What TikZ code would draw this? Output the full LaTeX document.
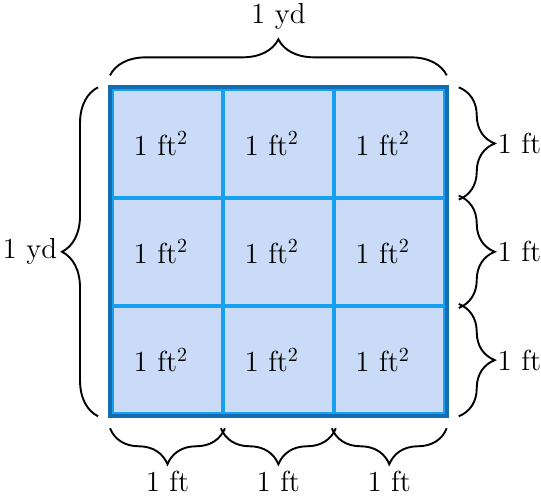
\documentclass[tikz,border=0pt]{standalone}
\usepackage{xcolor}
\usepackage{tikz}
\usetikzlibrary{positioning,calc,decorations.pathreplacing}

\definecolor{gridfill}{RGB}{201,219,246}
\definecolor{gridline}{RGB}{22,160,240}
\definecolor{gridedge}{RGB}{20,108,178}

\begin{document}
\begin{tikzpicture}[
    x=55.45pt, y=54.15pt,
    cell/.style={rectangle, draw=gridline, fill=gridfill, line width=2pt, minimum width=55.45pt, minimum height=54.15pt, inner sep=0pt, align=center, font=\fontsize{14.5}{17}\selectfont},
    bracebar/.style={decorate, decoration={brace, amplitude=18pt, raise=6pt}, line width=0.95pt},
    dim/.style={font=\fontsize{14.5}{17}\selectfont, inner sep=2pt}
]
    \useasboundingbox (-1.010,-0.746) rectangle (3.868,3.825);

    % === The 3x3 grid of square feet ===
    \foreach \c in {0,1,2} {
        \foreach \r in {0,1,2} {
            \node[cell] (c\c\r) at (\c+0.5,\r+0.5) {\hspace*{-3.3pt}1 ft$^2$\hspace*{3.3pt}};
        }
    }

    % Outer border of the square yard
    \draw[gridedge, line width=2pt] (c00.south west) rectangle (c22.north east);

    % === Braces for the whole side (1 yd) ===
    \draw[bracebar] (c02.north west) -- (c22.north east) node[dim, midway, above=26.5pt] {1 yd};
    \draw[bracebar] (c00.south west) -- (c02.north west) node[dim, midway, left=24pt] {1 yd};

    % === Braces for each foot ===
    \foreach \r in {0,1,2} {
        \draw[bracebar] (c2\r.north east) -- (c2\r.south east) node[dim, midway, right=23pt] {1 ft};
    }
    \foreach \c in {0,1,2} {
        \draw[bracebar] (c\c0.south east) -- (c\c0.south west) node[dim, midway, below=25pt] {1 ft};
    }
\end{tikzpicture}
\end{document}
